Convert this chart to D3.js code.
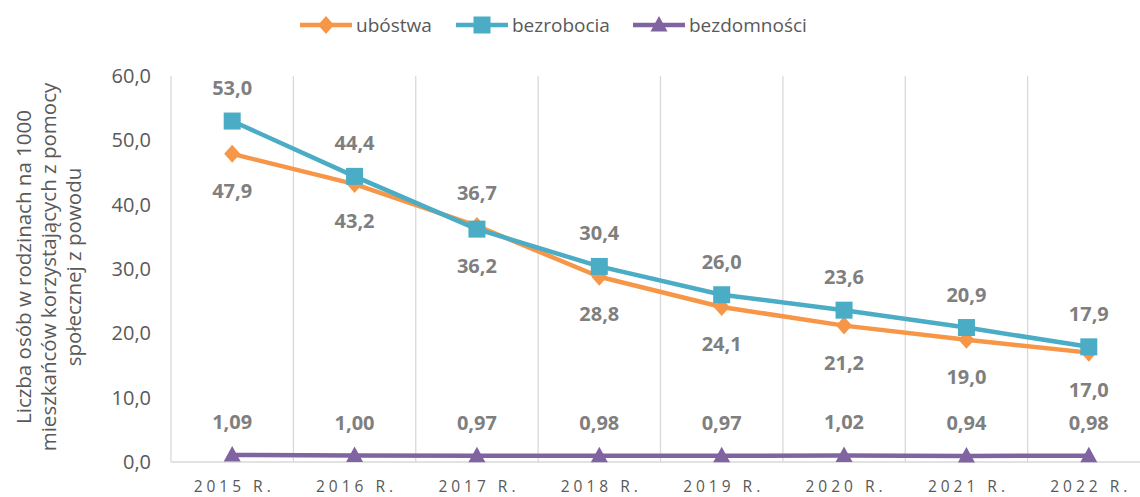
<!DOCTYPE html>
<html>
<head>
<meta charset="utf-8">
<script src="https://cdn.jsdelivr.net/npm/d3@7"></script>
<style>
  body { margin: 0; background: #fff; }
  svg { display: block; font-family: "Open Sans", sans-serif; }
</style>
</head>
<body>
<svg id="chart" width="1140" height="497"></svg>
<script>
//chart data
var years = ["2015 R.", "2016 R.", "2017 R.", "2018 R.", "2019 R.", "2020 R.", "2021 R.", "2022 R."];
var ubostwa = [47.9, 43.2, 36.7, 28.8, 24.1, 21.2, 19.0, 17.0];
var bezrobocia = [53.0, 44.4, 36.2, 30.4, 26.0, 23.6, 20.9, 17.9];
var bezdomnosci = [1.09, 1.00, 0.97, 0.98, 0.97, 1.02, 0.94, 0.98];
var yTicks = [0, 10, 20, 30, 40, 50, 60];
var seriesNames = ["ubóstwa", "bezrobocia", "bezdomności"];
var colors = ["#F79646", "#4BACC6", "#8064A2"];

var svg = d3.select("#chart");

// -- scales
var x = d3.scaleBand().domain(years).range([171, 1150]);
var y = d3.scaleLinear().domain([0, 60]).range([462, 76]);
var cx = function(i) { return x(years[i]) + x.bandwidth() / 2; };

// -- vertical gridlines at category edges
var edges = years.map(function(d) { return x(d); }).concat([x(years[years.length - 1]) + x.bandwidth()]);
svg.append("g").selectAll("line")
  .data(edges)
  .enter()
  .append("line")
  .attr("x1", function(d) { return d; })
  .attr("x2", function(d) { return d; })
  .attr("y1", y(60))
  .attr("y2", y(0))
  .attr("stroke", "#D9D9D9")
  .attr("stroke-width", 1.3);

// -- baseline
svg.append("line")
  .attr("x1", 171).attr("x2", 1150)
  .attr("y1", y(0)).attr("y2", y(0))
  .attr("stroke", "#D9D9D9")
  .attr("stroke-width", 1.3);

// -- y axis labels
var yAxis = svg.append("g")
  .attr("transform", "translate(151,0)")
  .call(d3.axisLeft(y).tickValues(yTicks).tickSize(0).tickPadding(0)
    .tickFormat(function(d) { return d.toFixed(1).replace(".", ","); }));
yAxis.select(".domain").remove();
yAxis.selectAll("text")
  .attr("fill", "#595959")
  .style("font-size", "20px")
  .style("font-family", "'Open Sans', sans-serif");

// -- x axis labels
svg.append("g").selectAll("text")
  .data(years)
  .enter()
  .append("text")
  .attr("x", function(d, i) { return cx(i) + 2; })
  .attr("y", 492)
  .attr("text-anchor", "middle")
  .attr("fill", "#595959")
  .style("font-size", "15.5px")
  .style("letter-spacing", "4px")
  .text(function(d) { return d; });

// -- y axis title
var titleLines = ["Liczba osób w rodzinach na 1000", "mieszkańców korzystających z pomocy", "społecznej z powodu"];
svg.append("g")
  .attr("transform", "translate(49,267) rotate(-90)")
  .selectAll("text")
  .data(titleLines)
  .enter()
  .append("text")
  .attr("x", 0)
  .attr("y", function(d, i) { return (i - 1) * 25 + 7; })
  .attr("text-anchor", "middle")
  .attr("fill", "#595959")
  .style("font-size", "20.5px")
  .text(function(d) { return d; });

// -- markers
function drawMarker(g, kind, px, py, color) {
  if (kind === 0) {
    g.append("path")
      .attr("d", "M0,-9L8,0L0,9L-8,0Z")
      .attr("transform", "translate(" + px + "," + py + ")")
      .attr("fill", color);
  } else if (kind === 1) {
    g.append("rect")
      .attr("x", px - 8.5).attr("y", py - 8.5)
      .attr("width", 17).attr("height", 17)
      .attr("fill", color);
  } else {
    g.append("path")
      .attr("d", "M0,-9L8.5,6.5L-8.5,6.5Z")
      .attr("transform", "translate(" + px + "," + py + ")")
      .attr("fill", color);
  }
}

var allSeries = [ubostwa, bezrobocia, bezdomnosci];
var line = d3.line()
  .x(function(d, i) { return cx(i); })
  .y(function(d) { return y(d); });

allSeries.forEach(function(vals, s) {
  var g = svg.append("g");
  g.append("path")
    .datum(vals)
    .attr("d", line)
    .attr("fill", "none")
    .attr("stroke", colors[s])
    .attr("stroke-width", 4.5)
    .attr("stroke-linejoin", "round");
  vals.forEach(function(v, i) { drawMarker(g, s, cx(i), y(v), colors[s]); });
});

// -- data labels: higher of the two main series above, lower below
var labels = svg.append("g")
  .attr("fill", "#7F7F7F")
  .attr("text-anchor", "middle")
  .style("font-size", "20px")
  .style("font-weight", "bold");
years.forEach(function(yr, i) {
  var pair = [ubostwa[i], bezrobocia[i]];
  pair.forEach(function(v, s) {
    var other = pair[1 - s];
    var above = v > other;
    labels.append("text")
      .attr("x", cx(i))
      .attr("y", above ? y(v) - 26 : y(v) + 44)
      .text(v.toFixed(1).replace(".", ","));
  });
  labels.append("text")
    .attr("x", cx(i))
    .attr("y", y(bezdomnosci[i]) - 26)
    .text(bezdomnosci[i].toFixed(2).replace(".", ","));
});

// -- legend
var legendX = [300, 456, 633];
var legend = svg.append("g");
seriesNames.forEach(function(name, s) {
  var lx = legendX[s];
  legend.append("line")
    .attr("x1", lx).attr("x2", lx + 52)
    .attr("y1", 25).attr("y2", 25)
    .attr("stroke", colors[s])
    .attr("stroke-width", 4.5);
  drawMarker(legend, s, lx + 26, 25, colors[s]);
  legend.append("text")
    .attr("x", lx + 56)
    .attr("y", 32)
    .attr("fill", "#595959")
    .style("font-size", "19px")
    .text(name);
});
</script>
</body>
</html>
